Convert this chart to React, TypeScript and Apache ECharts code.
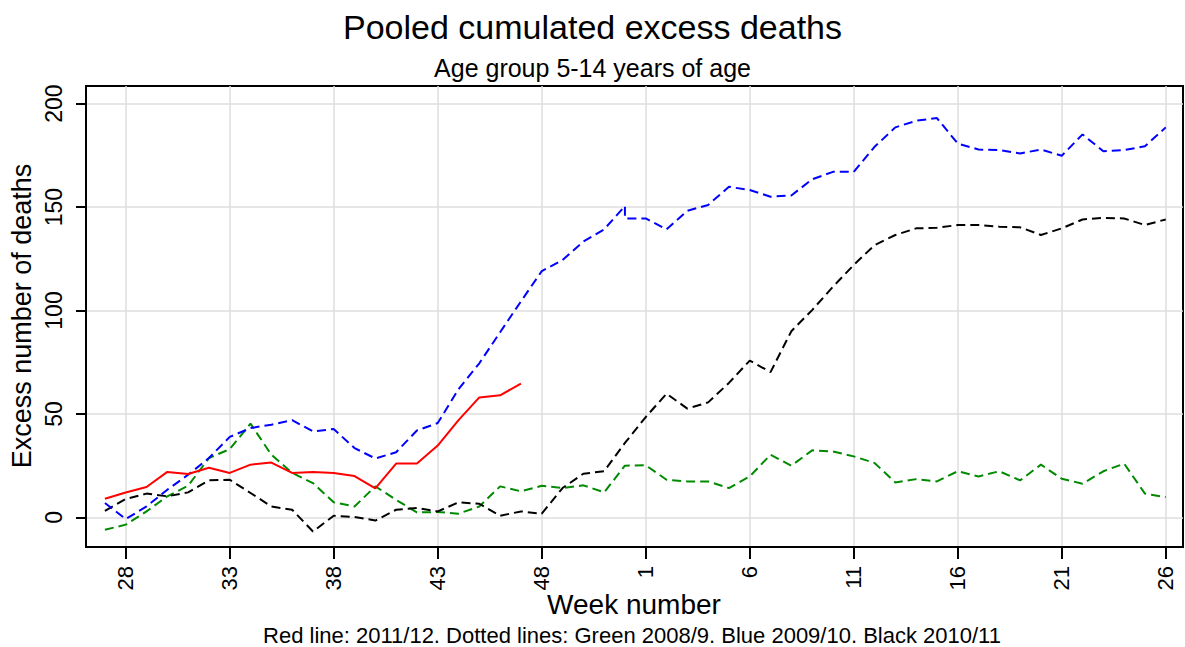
import React, { useEffect, useRef } from "react";
import * as echarts from "echarts";

// Week labels along the x axis (season runs from week 27 to week 26 of next year)
const weekLabels = [
  27, 28, 29, 30, 31, 32, 33, 34, 35, 36, 37, 38, 39, 40, 41, 42, 43, 44, 45, 46, 47, 48, 49, 50, 51, 52,
  1, 2, 3, 4, 5, 6, 7, 8, 9, 10, 11, 12, 13, 14, 15, 16, 17, 18, 19, 20, 21, 22, 23, 24, 25, 26,
];
const tickWeeks = [28, 33, 38, 43, 48, 1, 6, 11, 16, 21, 26];
const yTicks = [0, 50, 100, 150, 200];

// Red line: 2011/12 (weeks 27..47)
const red = [9, 12, 14.7, 22, 21, 24, 21.5, 25.5, 26.5, 21.5, 22, 21.5, 20, 14, 26, 26, 34.7, 47, 58, 59, 64.7];

// Green dashed: 2008/9
const green = [
  -6, -3.5, 2.9, 10.2, 15.3, 28.7, 33, 45.3, 30.3, 21.5, 16.6, 7.3, 5.3, 15, 8.5, 2.4, 2.6, 1.8, 5.3, 15,
  12.6, 15.3, 14.2, 15.5, 12.1, 25, 25.2, 18.2, 17.4, 17.4, 14.2, 19.8, 30.3, 25, 32.4, 31.9, 29.5, 26.3,
  16.9, 18.5, 17.4, 22.3, 19.8, 22.3, 17.9, 25.5, 18.7, 16.3, 22.3, 26, 11.5, 9.8,
];

// Blue dashed: 2009/10
const blue = [
  7, -0.8, 5.3, 13.4, 20.6, 28.7, 38.9, 43.2, 44.8, 47, 41.6, 42.7, 33.5, 28.5, 31.5, 42, 45.6, 62, 74.5,
  89.5, 104.4, 119, 124.4, 133.3, 139.2, 150.5, 144.5, 139.2, 148.2, 151, 159.8, 158.2, 155, 155.6, 163.4,
  167, 167, 179.1, 188.5, 191.7, 193, 180.7, 177.8, 177.5, 175.9, 177.8, 174.8, 185.1, 177, 177.5, 179.4,
  188.5,
];
// 2009 had a 53rd week; it is drawn at the same position as week 52
const blueWeek53 = 144.5;

// Black dashed: 2010/11
const black = [
  3.2, 8.9, 11.5, 10.2, 12.1, 17.9, 18.2, 11.8, 5.3, 3.7, -6.8, 0.8, 0.2, -1.5, 3.7, 4.5, 2.9, 7.3, 6.6,
  0.8, 2.9, 1.8, 14.2, 21.1, 22.3, 36, 48.5, 59.8, 52.6, 55.6, 65, 75.8, 70.2, 90, 100.2, 111.5, 122,
  131.6, 136.5, 139.7, 140, 141.3, 141.3, 140.5, 140.2, 136.5, 139.7, 144, 144.8, 144.5, 141.3, 144,
];

const FONT = "'Liberation Sans', Arial, Helvetica, sans-serif";

export default function App() {
  const ref = useRef<HTMLDivElement>(null);

  useEffect(() => {
    if (!ref.current) return;
    const chart = echarts.init(ref.current, undefined, { renderer: "svg" });

    const toPairs = (arr: number[]) => arr.map((v, i) => [i, v]);
    const week52Index = weekLabels.indexOf(52);
    const blueData: number[][] = [];
    blue.forEach((v, i) => {
      blueData.push([i, v]);
      if (i === week52Index) blueData.push([i, blueWeek53]);
    });
    const tickIdx = tickWeeks.map((w) => weekLabels.indexOf(w));

    const dashed = (color: string) => ({
      color,
      width: 2,
      type: [9, 5] as number[],
    });

    chart.setOption({
      animation: false,
      backgroundColor: "#ffffff",
      textStyle: { fontFamily: FONT },
      title: [
        {
          text: "Pooled cumulated excess deaths",
          left: "center",
          top: 5,
          textStyle: { fontSize: 34, fontWeight: "normal", color: "#000", fontFamily: FONT },
        },
        {
          text: "Age group 5-14 years of age",
          left: "center",
          top: 50,
          textStyle: { fontSize: 25, fontWeight: "normal", color: "#000", fontFamily: FONT },
        },
      ],
      grid: {
        left: 86,
        top: 86,
        right: 2,
        bottom: 100,
        show: true,
        borderColor: "#000",
        borderWidth: 2,
        backgroundColor: "#fff",
      },
      xAxis: {
        type: "value",
        min: -0.91,
        max: 51.83,
        axisLine: { show: true, onZero: false, lineStyle: { color: "#000", width: 2 } },
        axisTick: {
          show: true,
          length: 12,
          customValues: tickIdx,
          lineStyle: { color: "#000", width: 2 },
        },
        axisLabel: {
          customValues: tickIdx,
          rotate: 90,
          margin: 19,
          fontSize: 22,
          color: "#000",
          fontFamily: FONT,
          formatter: (v: number) => String(weekLabels[Math.round(v)]),
        },
        splitLine: { show: true, lineStyle: { color: "#dedede", width: 1.5 } },
      },
      yAxis: {
        type: "value",
        min: -14.3,
        max: 208.5,
        axisLine: { show: true, onZero: false, lineStyle: { color: "#000", width: 2 } },
        axisTick: {
          show: true,
          length: 10,
          customValues: yTicks,
          lineStyle: { color: "#000", width: 2 },
        },
        axisLabel: {
          customValues: yTicks,
          rotate: 90,
          margin: 21,
          fontSize: 23,
          color: "#000",
          fontFamily: FONT,
        },
        splitLine: { show: true, lineStyle: { color: "#dedede", width: 1.5 } },
      },
      graphic: [
        {
          type: "text",
          x: 634,
          y: 604,
          style: {
            text: "Week number",
            fontSize: 28,
            fontFamily: FONT,
            fill: "#000",
            align: "center",
            verticalAlign: "middle",
          },
        },
        {
          type: "text",
          x: 22,
          y: 316,
          rotation: Math.PI / 2,
          style: {
            text: "Excess number of deaths",
            fontSize: 27,
            fontFamily: FONT,
            fill: "#000",
            align: "center",
            verticalAlign: "middle",
          },
        },
        {
          type: "text",
          x: 632,
          y: 635,
          style: {
            text: "Red line: 2011/12. Dotted lines: Green 2008/9. Blue 2009/10. Black 2010/11",
            fontSize: 22,
            fontFamily: FONT,
            fill: "#000",
            align: "center",
            verticalAlign: "middle",
          },
        },
      ],
      series: [
        {
          name: "Green 2008/9",
          type: "line",
          data: toPairs(green),
          showSymbol: false,
          lineStyle: dashed("#008a00"),
          z: 2,
        },
        {
          name: "Black 2010/11",
          type: "line",
          data: toPairs(black),
          showSymbol: false,
          lineStyle: dashed("#000000"),
          z: 3,
        },
        {
          name: "Blue 2009/10",
          type: "line",
          data: blueData,
          showSymbol: false,
          lineStyle: dashed("#0000ff"),
          z: 4,
        },
        {
          name: "Red 2011/12",
          type: "line",
          data: toPairs(red),
          showSymbol: false,
          lineStyle: { color: "#ff0000", width: 2, type: "solid" },
          z: 5,
        },
      ],
    });

    return () => chart.dispose();
  }, []);

  return (
    <div
      ref={ref}
      style={{ position: "fixed", left: 0, top: 0, width: 1185, height: 647, background: "#fff" }}
    />
  );
}
